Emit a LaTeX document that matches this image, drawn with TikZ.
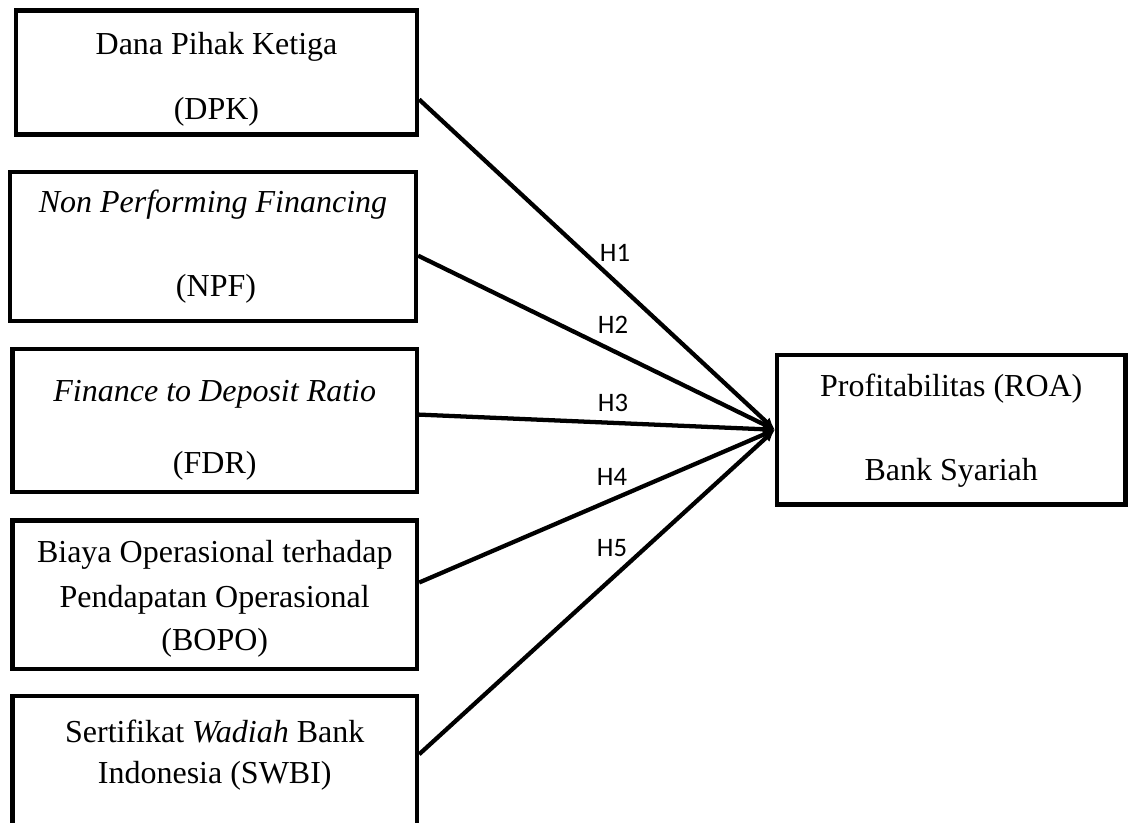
\documentclass[tikz,border=0pt]{standalone}
\usepackage{fontspec}
\setmainfont{Liberation Serif}
\newfontfamily\hfont{Carlito}
\usetikzlibrary{arrows.meta,calc}

\tikzset{every picture/.style={line width=3.2pt}}
\tikzset{
  varbox/.style={draw, rectangle, inner sep=0pt, line width=3.2pt},
  vartext/.style={anchor=base, inner sep=0.75pt, font=\fontsize{24}{28}\selectfont},
  hyplabel/.style={inner sep=0.75pt, font=\hfont\fontsize{20}{24}\selectfont},
  hypline/.style={-{Latex[length=9pt,width=8pt]}, line width=3.2pt}
}

\begin{document}
\begin{tikzpicture}[x=0.75pt,y=0.75pt,yscale=-1,xscale=1]
\useasboundingbox (0,0) rectangle (1131,823);

%Shape: Rectangle (left column)
\node[varbox, minimum width=300.75pt, minimum height=93pt] (dpk) at (216.5,72.5) {};
\node[varbox, minimum width=304.5pt, minimum height=111.75pt] (npf) at (213,246.5) {};
\node[varbox, minimum width=303.4pt, minimum height=107.25pt] (fdr) at (214.75,420.5) {};
\node[varbox, minimum width=303.4pt, minimum height=111.4pt] (bopo) at (214.75,594.75) {};
\node[varbox, minimum width=303.4pt, minimum height=97.5pt] (swbi) at (214.75,761) {};
%Shape: Rectangle (right)
\node[varbox, minimum width=261.4pt, minimum height=112.1pt] (roa) at (951.25,429.75) {};

% Text Node
\node[vartext] (dpkA) at (216.5,55) {Dana Pihak Ketiga};
\node[vartext] (dpkB) at (216.5,120) {(DPK)};
\node[vartext] (npfA) at (213,213) {\itshape Non Performing Financing};
\node[vartext] (npfB) at (216,297) {(NPF)};
\node[vartext] (fdrA) at (214.75,402) {\itshape Finance to Deposit Ratio};
\node[vartext] (fdrB) at (214.75,473) {(FDR)};
\node[vartext] (bopoA) at (214.75,562) {Biaya Operasional terhadap};
\node[vartext] (bopoB) at (214.75,607) {Pendapatan Operasional};
\node[vartext] (bopoC) at (214.75,650) {(BOPO)};
\node[vartext] (swbiA) at (214.75,742) {Sertifikat \textit{Wadiah} Bank};
\node[vartext] (swbiB) at (214.75,783) {Indonesia (SWBI)};
\node[vartext] (roaA) at (951.25,397) {Profitabilitas (ROA)};
\node[vartext] (roaB) at (951.25,480) {Bank Syariah};

%Straight Lines
\draw[hypline] ($(dpk.north east)!0.71!(dpk.south east)$) -- (roa.west);
\draw[hypline] ($(npf.north east)!0.56!(npf.south east)$) -- (roa.west);
\draw[hypline] ($(fdr.north east)!0.46!(fdr.south east)$) -- (roa.west);
\draw[hypline] ($(bopo.north east)!0.42!(bopo.south east)$) -- (roa.west);
\draw[hypline] ($(swbi.north east)!0.45!(swbi.south east)$) -- (roa.west);

% Text Node
\node[hyplabel] (h1) at (615,253) {H1};
\node[hyplabel] (h2) at (613,325) {H2};
\node[hyplabel] (h3) at (613,403) {H3};
\node[hyplabel] (h4) at (612,477) {H4};
\node[hyplabel] (h5) at (612,548) {H5};

\end{tikzpicture}
\end{document}
